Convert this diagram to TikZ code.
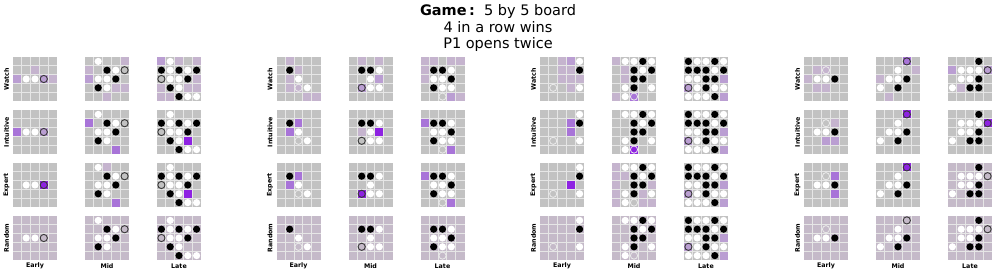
\documentclass[tikz,border=0pt]{standalone}
\usepackage{fontspec}
\setmainfont{DejaVu Sans}
\setsansfont{DejaVu Sans}
\definecolor{gc}{HTML}{C2C2C2}
\definecolor{lr}{HTML}{C5BAC9}
\definecolor{la}{HTML}{C5B4CE}
\definecolor{lb}{HTML}{BA9ED2}
\definecolor{lc}{HTML}{A874D8}
\definecolor{ld}{HTML}{8E22E2}
\definecolor{gl}{HTML}{E6E6E6}
\tikzset{
 gridline/.style={draw=gl, line width=0.9pt},
 stoneB/.style={fill=black},
 stoneW/.style={fill=white},
 stoneK/.style={draw=black!78, line width=0.9pt},
 stoneH/.style={draw=white!92!black, line width=0.8pt},
 rowlab/.style={rotate=90, font=\sffamily\bfseries\fontsize{6.3}{7}\selectfont, inner sep=0pt},
 collab/.style={font=\sffamily\bfseries\fontsize{6.3}{7}\selectfont, inner sep=0pt},
 titletext/.style={font=\fontsize{14.5}{17}\selectfont, inner sep=0pt}
}
\newcommand{\drawboard}[5]{%
\begin{scope}[shift={(#1,#2)}]
\fill[fill=#3] (0,0) rectangle (44,44);
\foreach \r/\c/\k in {#4}{\fill[fill=\k] (\c*8.8,\r*8.8) rectangle ++(8.8,8.8);}
\foreach \i in {1,...,4}{\draw[gridline] (\i*8.8,0) -- (\i*8.8,44); \draw[gridline] (0,\i*8.8) -- (44,\i*8.8);}
\foreach \r/\c/\k in #5{\edef\stonecmd{\noexpand\path[stone\k]}\stonecmd (\c*8.8+4.4,\r*8.8+4.4) circle (3.6);}
\end{scope}}
% stones
\def\sAE{2/1/W,2/2/W,2/3/K}
\def\sAM{0/1/W,1/2/B,1/3/W,1/4/K,2/1/W,2/2/W,2/3/B,3/1/B,3/2/W}
\def\sAL{0/1/W,1/0/B,1/1/W,1/2/B,1/3/W,1/4/B,2/0/K,2/1/W,2/2/W,2/3/B,3/1/B,3/2/W,4/2/B,4/3/W,4/4/W}
\def\sBE{1/1/B,2/2/W,3/2/H,3/3/W}
\def\sBM{1/1/B,1/2/B,1/3/W,2/2/W,3/1/K,3/2/W,3/3/W}
\def\sBL{1/1/B,1/2/B,1/3/W,2/1/W,2/2/W,2/3/B,3/1/B,3/2/W,3/3/W,4/2/H}
\def\sCE{0/4/W,1/4/B,3/1/H,3/4/W}
\def\sCM{0/1/W,0/2/W,0/3/B,0/4/W,1/2/B,1/3/W,1/4/B,2/2/B,2/3/B,3/1/W,3/2/B,3/4/W,4/1/W,4/2/H}
\def\sCL{0/0/B,0/1/W,0/2/W,0/3/B,0/4/W,1/0/B,1/1/B,1/2/B,1/3/W,1/4/B,2/0/W,2/1/W,2/2/B,2/3/B,3/0/K,3/1/W,3/2/B,3/3/W,3/4/W,4/0/W,4/1/W,4/2/W,4/3/B}
\def\sDE{1/2/H,2/1/W,2/2/W,2/3/B}
\def\sDM{0/3/K,1/2/W,2/1/W,2/2/W,2/3/B,3/0/W,3/2/B}
\def\sDL{0/3/B,1/1/W,1/2/W,1/3/W,1/4/K,2/1/W,2/2/W,2/3/B,3/0/W,3/2/B,3/3/B}
\begin{document}
\begin{tikzpicture}[x=1pt,y=-1pt]
\useasboundingbox (0,0) rectangle (996,273);
% title
\node[titletext] (t1) at (498,11) {\textbf{Game\,:}\ \ 5 by 5 board};
\node[titletext] (t2) at (498,27.5) {4 in a row wins};
\node[titletext] (t3) at (498,44) {P1 opens twice};
% labels
\foreach \px [count=\p] in {13,276.5,540,804} {
 \foreach \lab [count=\r from 0] in {Watch,Intuitive,Expert,Random}
   \node[rowlab] (rl-\p-\r) at (\px-6.5, 57+53*\r+22) {\lab};
 \foreach \lab [count=\c from 0] in {Early,Mid,Late}
   \node[collab] (cl-\p-\c) at (\px+72*\c+22, 266) {\lab};
}
% panel A
\drawboard{13}{57}{gc}{1/2/la,2/0/lb,2/3/lb,2/4/la}{\sAE}
\drawboard{13}{110}{gc}{2/0/lc,2/3/lb}{\sAE}
\drawboard{13}{163}{gc}{2/3/ld}{\sAE}
\drawboard{13}{216}{lr}{0/0/lr}{\sAE}
\drawboard{85}{57}{gc}{0/4/la,1/0/la,2/0/lb,3/3/la,3/4/la,4/2/la}{\sAM}
\drawboard{85}{110}{gc}{1/0/lc,4/3/lc}{\sAM}
\drawboard{85}{163}{gc}{0/2/la,4/3/lc}{\sAM}
\drawboard{85}{216}{lr}{0/0/lr}{\sAM}
\drawboard{157}{57}{gc}{0/0/lb,0/2/la,0/4/la,2/4/la,3/0/la,3/3/la,3/4/la,4/0/la,4/1/la}{\sAL}
\drawboard{157}{110}{gc}{3/3/ld}{\sAL}
\drawboard{157}{163}{gc}{3/3/ld}{\sAL}
\drawboard{157}{216}{lr}{0/0/lr}{\sAL}
% panel B
\drawboard{276.5}{57}{gc}{0/1/la,1/2/la,2/1/la,3/1/la,3/2/la,4/3/la,4/4/la}{\sBE}
\drawboard{276.5}{110}{gc}{1/2/lc,2/1/lc}{\sBE}
\drawboard{276.5}{163}{gc}{1/2/lc,2/1/lc}{\sBE}
\drawboard{276.5}{216}{lr}{0/0/lr}{\sBE}
\drawboard{348.5}{57}{gc}{0/1/la,0/3/la,2/3/lb,3/1/lb}{\sBM}
\drawboard{348.5}{110}{gc}{2/1/la,2/3/ld}{\sBM}
\drawboard{348.5}{163}{gc}{3/1/ld}{\sBM}
\drawboard{348.5}{216}{lr}{0/0/lr}{\sBM}
\drawboard{420.5}{57}{gc}{0/0/la,0/1/la,0/3/la,0/4/la,1/0/la,2/0/la,4/3/lb,4/4/la}{\sBL}
\drawboard{420.5}{110}{gc}{1/0/lc,4/3/lc}{\sBL}
\drawboard{420.5}{163}{gc}{1/0/lc,4/3/lc}{\sBL}
\drawboard{420.5}{216}{lr}{0/0/lr}{\sBL}
% panel C
\drawboard{540}{57}{gc}{0/2/la,0/3/lb,1/2/la,1/3/la,2/2/la,2/3/la,2/4/la,3/3/la}{\sCE}
\drawboard{540}{110}{gc}{1/3/lc,2/3/lc}{\sCE}
\drawboard{540}{163}{gc}{2/3/ld}{\sCE}
\drawboard{540}{216}{lr}{0/0/lr}{\sCE}
\drawboard{612}{57}{gc}{0/0/la,1/1/la,2/1/la,4/0/la,4/2/lc}{\sCM}
\drawboard{612}{110}{gc}{4/2/ld}{\sCM}
\drawboard{612}{163}{gc}{0/0/la,1/0/la,2/0/la,3/0/la,4/0/la,1/1/la,2/4/la,3/3/la,4/3/la,4/4/la}{\sCM}
\drawboard{612}{216}{lr}{0/0/lr}{\sCM}
\drawboard{684}{57}{gc}{2/4/lb,3/0/lb,4/4/lb}{\sCL}
\drawboard{684}{110}{gc}{2/4/lb,3/0/lb,4/4/lb}{\sCL}
\drawboard{684}{163}{gc}{2/4/lb,3/0/lb,4/4/lb}{\sCL}
\drawboard{684}{216}{gc}{2/4/lb,3/0/lb,4/4/lb}{\sCL}
% panel D
\drawboard{804}{57}{gc}{1/1/la,1/2/la,2/0/la,3/1/la,3/2/la}{\sDE}
\drawboard{804}{110}{gc}{1/3/la,3/2/lb,3/3/lb}{\sDE}
\drawboard{804}{163}{gc}{1/3/lc,3/3/lc}{\sDE}
\drawboard{804}{216}{lr}{0/0/lr}{\sDE}
\drawboard{876}{57}{gc}{0/3/lc,1/4/la,2/0/la,4/1/la}{\sDM}
\drawboard{876}{110}{gc}{0/3/ld}{\sDM}
\drawboard{876}{163}{gc}{0/3/ld}{\sDM}
\drawboard{876}{216}{lr}{0/0/lr}{\sDM}
\drawboard{948}{57}{gc}{1/0/lb,1/4/lb,3/1/la}{\sDL}
\drawboard{948}{110}{gc}{1/4/ld}{\sDL}
\drawboard{948}{163}{lr}{0/0/lr}{\sDL}
\drawboard{948}{216}{lr}{0/0/lr}{\sDL}
\end{tikzpicture}
\end{document}
